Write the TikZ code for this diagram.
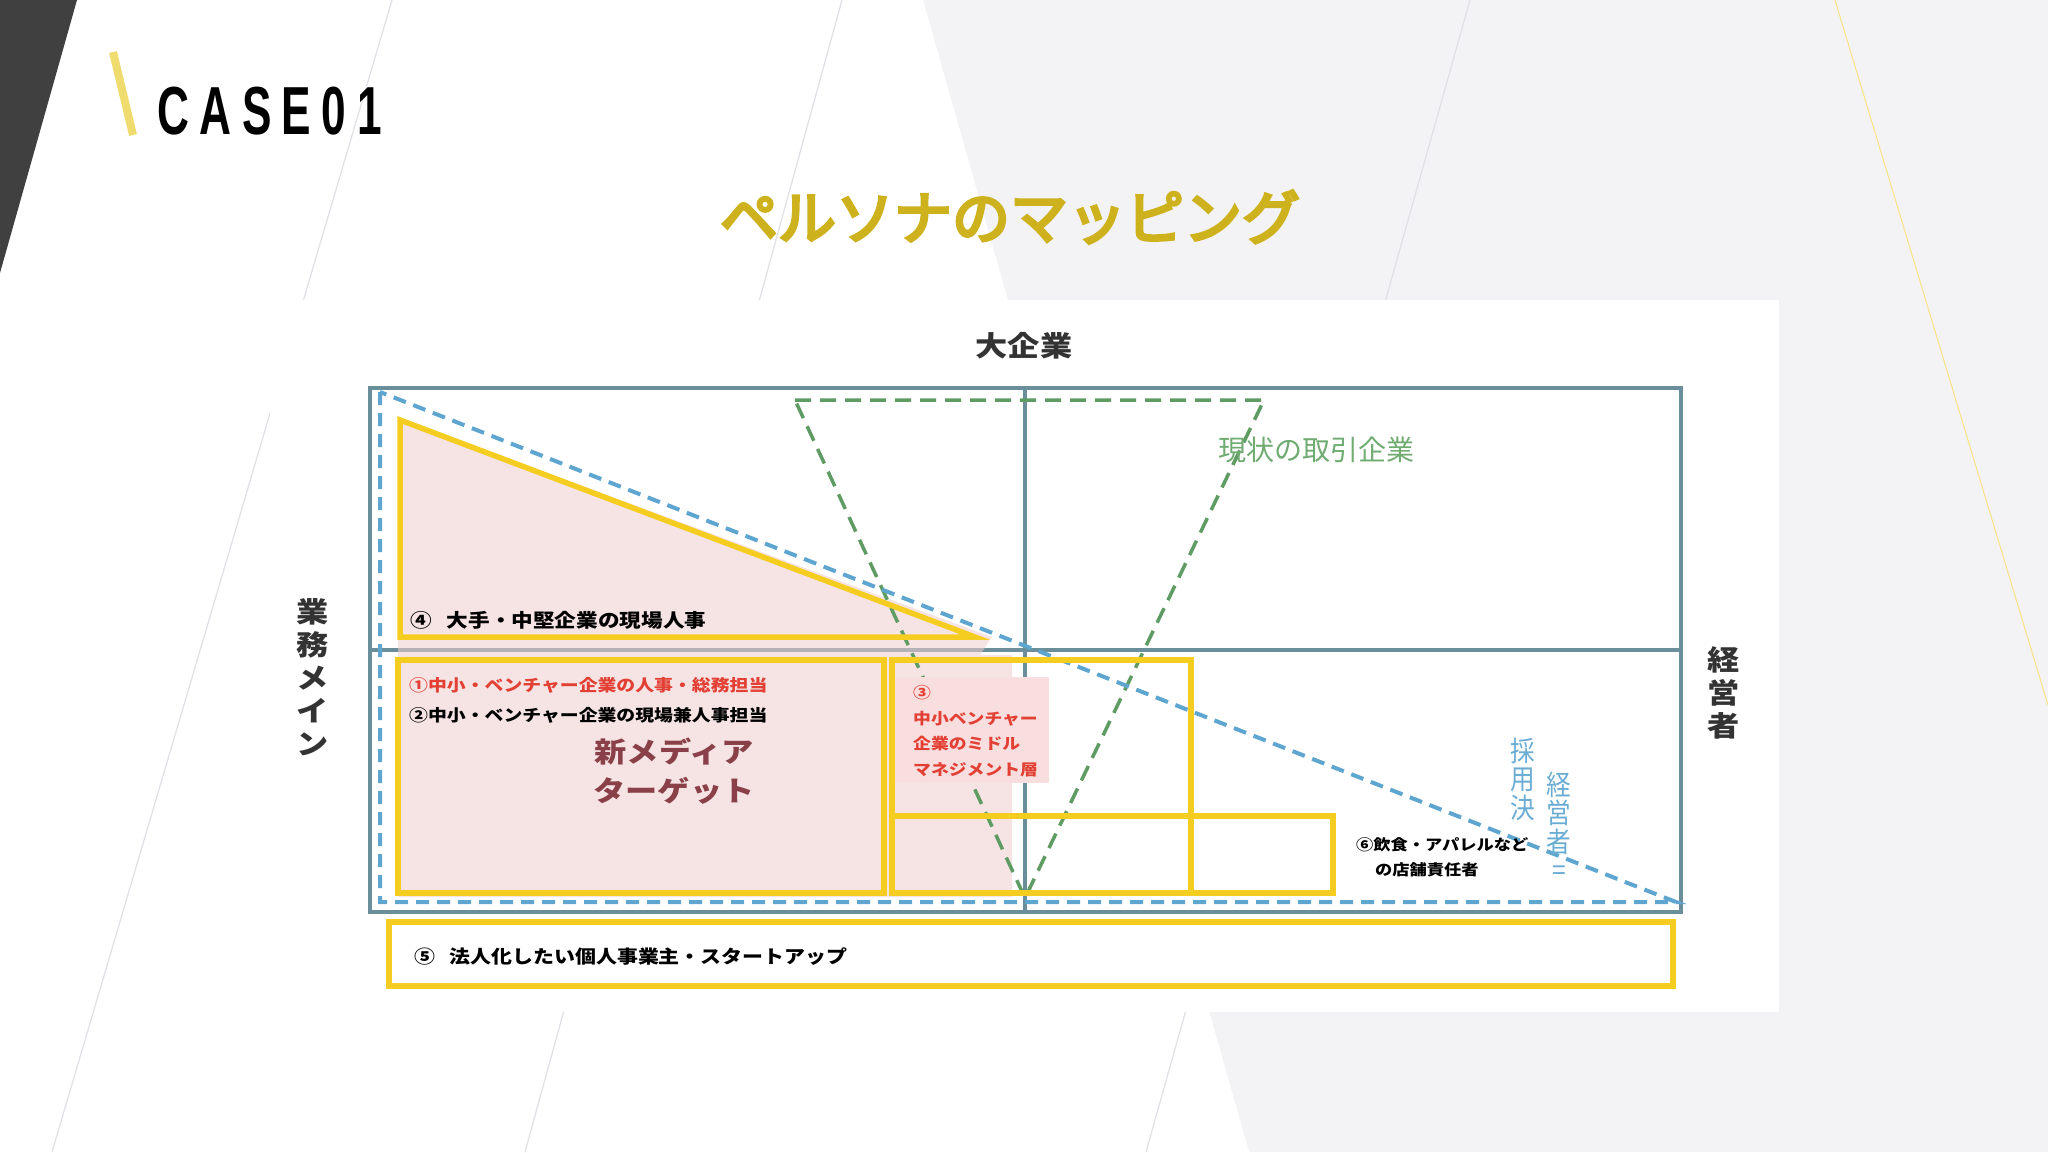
\documentclass[tikz,border=0pt]{standalone}
\usepackage{fontspec}
\setmainfont{Liberation Sans}
\newfontfamily\jpfont{Noto Sans CJK JP}
\newfontfamily\titlefont[FakeBold=5]{Noto Sans CJK JP}
\newfontfamily\jpwide[FakeStretch=1.15]{Noto Sans CJK JP}
\newfontfamily\jpnarrow[FakeStretch=0.88]{Noto Sans CJK JP}
\newfontfamily\casefont[FakeStretch=0.65]{Liberation Sans}
\usetikzlibrary{positioning}

\definecolor{paper}{RGB}{243,243,245}
\definecolor{slate}{RGB}{64,64,64}
\definecolor{thinline}{RGB}{224,224,230}
\definecolor{slash}{RGB}{240,220,110}
\definecolor{titlegold}{RGB}{205,178,30}
\definecolor{steel}{RGB}{107,142,155}
\definecolor{skyline}{RGB}{94,166,208}
\definecolor{skytext}{RGB}{105,172,212}
\definecolor{leaf}{RGB}{94,156,99}
\definecolor{leaftext}{RGB}{112,172,114}
\definecolor{mustard}{RGB}{245,204,32}
\definecolor{blush}{RGB}{240,206,206}
\definecolor{blushbox}{RGB}{248,222,222}
\definecolor{alert}{RGB}{226,64,52}
\definecolor{wine}{RGB}{138,64,72}
\definecolor{ink}{RGB}{51,51,51}

\tikzset{
  quadbox/.style={draw=steel,line width=4pt},
  persona/.style={draw=mustard,line width=5.5pt},
  bluedash/.style={draw=skyline,line width=4pt,dash pattern=on 13pt off 8pt},
  greendash/.style={draw=leaf,line width=3.5pt,dash pattern=on 16pt off 9pt},
  axislabel/.style={inner sep=0pt,align=center,text=ink,font=\jpwide\bfseries\fontsize{28}{33}\selectfont},
  smalllabel/.style={inner sep=0pt,font=\jpwide\bfseries\fontsize{16.4}{25.5}\selectfont},
  biglabel/.style={inner sep=0pt,font=\jpwide\bfseries\fontsize{18.8}{22}\selectfont},
  thinlabel/.style={inner sep=0pt,align=center,text=skytext,font=\jpnarrow\fontsize{28}{28.5}\selectfont}
}

\begin{document}
\begin{tikzpicture}[x=1pt,y=-1pt]
  \useasboundingbox (0,0) rectangle (2048,1152);

  % background
  \fill[paper] (0,0) rectangle (2048,1152);
  \fill[white] (0,0) -- (923,0) -- (1249,1152) -- (0,1152) -- cycle;
  \fill[slate] (0,0) -- (77,0) -- (0,273) -- cycle;
  \draw[thinline,line width=1.2pt] (392,0) -- (52,1152) (842,0) -- (525,1152) (1470,0) -- (1146,1152);
  \draw[mustard!55,line width=1pt] (1835,0) -- (2048,705);

  % heading
  \draw[slash,line width=8pt] (113,52) -- (133,135);
  \node[anchor=base west,inner sep=0pt,font=\casefont\bfseries\fontsize{68}{68}\selectfont] (case) at (157,134)
    {C\kern10.5pt A\kern10.5pt S\kern10.5pt E\kern10.5pt 0\kern10.5pt 1};
  \node[inner sep=0pt,text=titlegold,font=\titlefont\fontsize{58}{60}\selectfont] (title) at (1010,217) {ペルソナのマッピング};

  % panel
  \fill[white] (270,300) rectangle (1779,1012);

  % quadrants
  \draw[quadbox] (370,388) rectangle (1681,912);
  \draw[quadbox] (1025,388) -- (1025,912) (370,650) -- (1681,650);
  \fill[blush,fill opacity=0.55] (398,418) -- (992,637) -- (980,655) -- (1012,655) -- (1012,897) -- (398,897) -- cycle;

  \draw[greendash] (795,400) -- (1264,400) -- (1025,898) -- cycle;
  \draw[bluedash] (380,392) -- (380,902) -- (1676,902) -- cycle;
  \fill[blushbox] (893,677) rectangle (1049,783);

  % persona boxes
  \draw[persona] (400,420) -- (975,637) -- (400,637) -- cycle;
  \draw[persona] (398,660) rectangle (884,893);
  \draw[persona] (892,660) rectangle (1191,893);
  \draw[persona] (892,816) rectangle (1333,893);
  \draw[persona] (389,922) rectangle (1673,986);

  % axis labels
  \node[axislabel] (large) at (1024,346) {大企業};
  \node[axislabel] (work) at (313,677) {業\\務\\メ\\イ\\ン};
  \node[axislabel] (owner) at (1724,693) {経\\営\\者};
  \node[inner sep=0pt,text=leaftext,font=\jpfont\fontsize{28}{30}\selectfont] (deal) at (1316,450) {現状の取引企業};

  % persona labels
  \node[biglabel,anchor=west] (grp4) at (410,620) {④\hspace{0.8em}大手・中堅企業の現場人事};
  \node[smalllabel,anchor=west,text=alert] (grp1) at (409,685) {①中小・ベンチャー企業の人事・総務担当};
  \node[smalllabel,anchor=west] (grp2) at (409,715) {②中小・ベンチャー企業の現場兼人事担当};
  \node[inner sep=0pt,align=center,text=wine,font=\jpwide\bfseries\fontsize{28}{39}\selectfont] (target) at (674,771) {新メディア\\ターゲット};
  \node[smalllabel,anchor=west,align=left,text=alert,font=\jpwide\bfseries\fontsize{15.5}{25.5}\selectfont] (grp3) at (913,731) {③\\中小ベンチャー\\企業のミドル\\マネジメント層};
  \node[smalllabel,anchor=west,align=left,font=\jpwide\bfseries\fontsize{15}{25}\selectfont] (grp6) at (1356,857)
    {⑥飲食・アパレルなど\\\hspace*{19pt}の店舗責任者};
  \node[biglabel,anchor=west,font=\jpwide\bfseries\fontsize{18.2}{20}\selectfont] (grp5) at (414,957) {⑤\hspace{0.8em}法人化したい個人事業主・スタートアップ};

  \node[thinlabel] (hire) at (1523,779) {採\\用\\決};
  \node[thinlabel] (boss) at (1559,826) {経\\営\\者\\=};
\end{tikzpicture}
\end{document}
